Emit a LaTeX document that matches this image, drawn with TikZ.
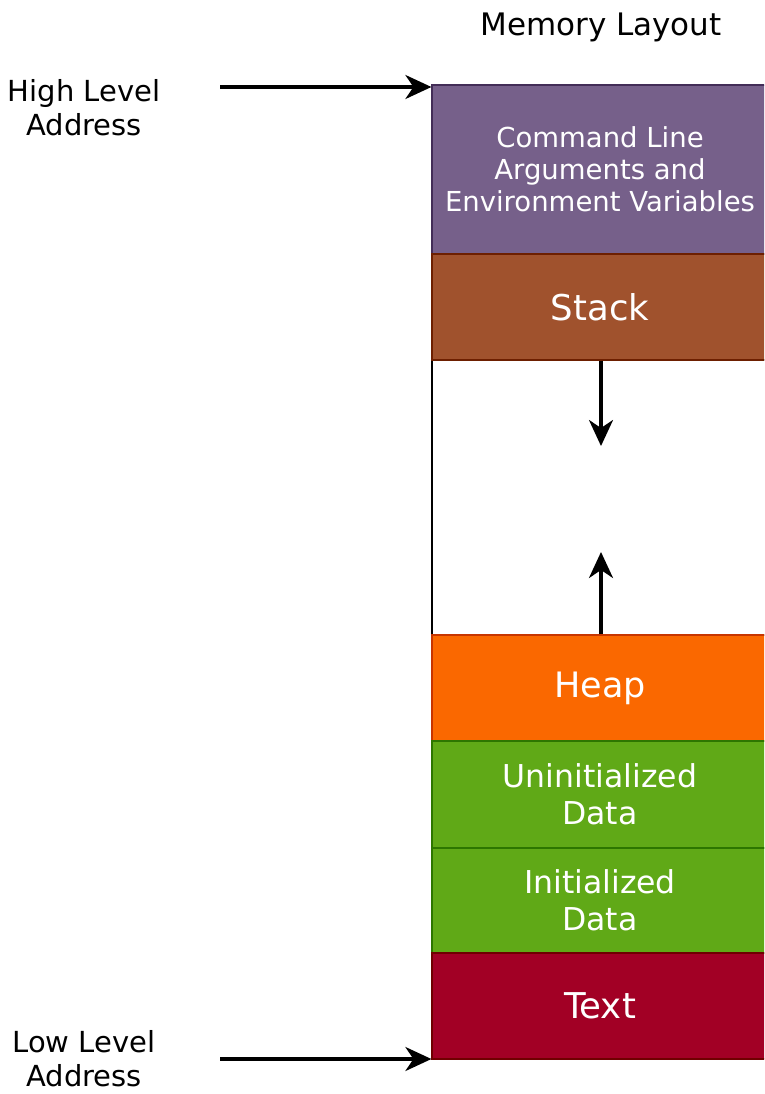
\documentclass[tikz,border=0pt]{standalone}
\usepackage{fontspec}
\setmainfont{DejaVu Sans}
\usetikzlibrary{arrows.meta}
\definecolor{cpurple}{HTML}{76608A}
\definecolor{cpurpled}{HTML}{432D57}
\definecolor{cbrown}{HTML}{A0522D}
\definecolor{cbrownd}{HTML}{6D1F00}
\definecolor{corange}{HTML}{FA6800}
\definecolor{coranged}{HTML}{C73500}
\definecolor{cgreen}{HTML}{60A917}
\definecolor{cgreend}{HTML}{2D7600}
\definecolor{cred}{HTML}{A20025}
\definecolor{credd}{HTML}{6F0000}
\tikzset{
  seg/.style={rectangle, minimum width=336pt, inner sep=0pt, line width=1.2pt, text=white, align=center},
  lbl/.style={inner sep=0pt, align=center, font=\fontsize{29}{34}\selectfont},
  arr/.style={line width=3.2pt, -{Stealth[length=26pt,width=24pt,inset=8pt]}},
}
\begin{document}
\begin{tikzpicture}[x=1pt,y=-1pt]
\useasboundingbox (0,0) rectangle (764,1094);
\clip (0,0) rectangle (764,1094);
\fill[white] (0,0) rectangle (764,1094);
% free gap
\node[seg, draw=black, line width=1.4pt, fill=white, minimum height=275pt] (free) at (600,497.5) {};
% segments
\node[seg, draw=cpurpled, fill=cpurple, minimum height=169pt, font=\fontsize{27.5}{32}\selectfont] (env) at (600,169.5) {Command Line\\Arguments and\\Environment Variables};
\node[seg, draw=cbrownd, fill=cbrown, minimum height=106pt, font=\fontsize{35.5}{40}\selectfont] (stack) at (600,307) {Stack};
\node[seg, draw=coranged, fill=corange, minimum height=106pt, font=\fontsize{35}{40}\selectfont] (heap) at (600,688) {Heap};
\node[seg, draw=cgreend, fill=cgreen, minimum height=107pt, font=\fontsize{31.5}{37}\selectfont] (bss) at (600,794.5) {Uninitialized\\Data};
\node[seg, draw=cgreend, fill=cgreen, minimum height=105pt, font=\fontsize{31.5}{37}\selectfont] (data) at (600,900.5) {Initialized\\Data};
\node[seg, draw=credd, fill=cred, minimum height=106pt, font=\fontsize{35.5}{40}\selectfont] (text) at (600,1006) {Text};
% title and side labels
\node[lbl, font=\fontsize{31}{36}\selectfont] (title) at (601,27) {Memory Layout};
\node[lbl] (high) at (84,108) {High Level\\Address};
\node[lbl] (low) at (84,1059) {Low Level\\Address};
% arrows
\coordinate (hs) at (220,87);
\coordinate (ls) at (220,1059);
\draw[arr] (hs) -- (env.north west |- hs);
\draw[arr] (ls) -- (text.south west |- ls);
\coordinate (sdown) at (601,446);
\coordinate (hup) at (601,552);
\draw[arr] (stack.south -| sdown) -- (sdown);
\draw[arr] (heap.north -| hup) -- (hup);
\end{tikzpicture}
\end{document}
